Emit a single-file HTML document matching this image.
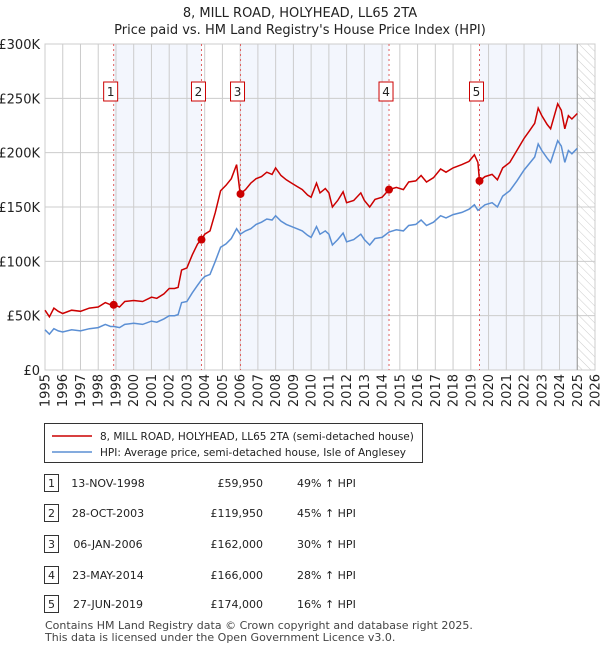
<!DOCTYPE html>
<html><head><meta charset="utf-8"><style>
body{margin:0;background:#fff;font-family:"Liberation Sans","DejaVu Sans",sans-serif;}
#wrap{position:relative;width:600px;height:650px;overflow:hidden;}
svg text{font-family:"DejaVu Sans","Liberation Sans",sans-serif;}
</style></head><body><div id="wrap">
<svg id="chart" width="600" height="650"></svg>
</div>
<script>
const years=[1995,1996,1997,1998,1999,2000,2001,2002,2003,2004,2005,2006,2007,2008,2009,2010,2011,2012,2013,2014,2015,2016,2017,2018,2019,2020,2021,2022,2023,2024,2025,2026];
const yTicks=[0,50,100,150,200,250,300];
const yTickLabels=["£0","£50K","£100K","£150K","£200K","£250K","£300K"];
const times=[1995.0,1995.25,1995.5,1995.75,1996.0,1996.5,1997.0,1997.5,1998.0,1998.4,1998.7,1998.9,1999.2,1999.5,2000.0,2000.5,2001.0,2001.3,2001.7,2002.0,2002.3,2002.5,2002.7,2003.0,2003.3,2003.6,2003.82,2004.0,2004.3,2004.6,2004.9,2005.2,2005.5,2005.8,2006.0,2006.3,2006.6,2006.9,2007.2,2007.5,2007.8,2008.0,2008.3,2008.6,2008.9,2009.2,2009.5,2009.8,2010.0,2010.3,2010.5,2010.8,2011.0,2011.2,2011.5,2011.8,2012.0,2012.4,2012.8,2013.0,2013.3,2013.6,2014.0,2014.39,2014.8,2015.2,2015.5,2015.9,2016.2,2016.5,2016.9,2017.3,2017.6,2018.0,2018.5,2018.9,2019.2,2019.4,2019.49,2019.8,2020.2,2020.5,2020.8,2021.2,2021.6,2022.0,2022.3,2022.6,2022.8,2023.0,2023.3,2023.5,2023.9,2024.1,2024.3,2024.5,2024.7,2025.0];
const hpiValues=[37,33,38,36,35,37,36,38,39,42,40,40,39,42,43,42,45,44,47,50,50,51,62,63,71,78,83,86,88,100,113,116,121,130,125,128,130,134,136,139,138,142,137,134,132,130,128,124,122,132,125,128,125,115,120,126,118,120,125,120,115,121,122,127,129,128,133,134,138,133,136,142,140,143,145,148,152,147,148,152,154,150,160,165,174,184,190,196,208,202,195,191,211,206,191,202,199,204];
const priceValues=[55,49,57,54,52,55,54,57,58,62,60,60,58,63,64,63,67,66,70,75,75,76,92,94,106,116,120,125,128,145,165,170,176,189,162,166,172,176,178,182,180,186,179,175,172,169,166,161,159,172,163,167,163,150,156,164,154,156,163,156,150,157,159,166,168,166,173,174,179,173,177,185,182,186,189,192,198,191,174,178,180,175,186,191,202,213,220,227,241,234,226,222,245,239,222,234,231,236];
const saleLabels=["1","2","3","4","5"];
const saleTimes=[1998.87,2003.82,2006.02,2014.39,2019.49];
const salePrices=[59.95,119.95,162,166,174];
const saleDates=["13-NOV-1998","28-OCT-2003","06-JAN-2006","23-MAY-2014","27-JUN-2019"];
const salePriceText=["£59,950","£119,950","£162,000","£166,000","£174,000"];
const saleHpiText=["49% ↑ HPI","45% ↑ HPI","30% ↑ HPI","28% ↑ HPI","16% ↑ HPI"];

const NS="http://www.w3.org/2000/svg";
const svg=document.getElementById('chart');
const X0=45,X1=595,Y0=370,Y1=44;
const xs=t=>X0+(t-1995)/(2026-1995)*(X1-X0);
const ys=v=>Y0-v/300*(Y0-Y1);
function mk(tag,attrs,parent){const e=document.createElementNS(NS,tag);for(const k in attrs)e.setAttribute(k,attrs[k]);(parent||svg).appendChild(e);return e;}

const defs=mk('defs',{});
const pat=mk('pattern',{id:'hatch',width:6,height:6,patternUnits:'userSpaceOnUse',patternTransform:'rotate(-45)'},defs);
mk('line',{x1:0,y1:0,x2:0,y2:6,stroke:'#ccc','stroke-width':1},pat);

const shadeRanges=[[saleTimes[0],saleTimes[1]],[saleTimes[2],saleTimes[3]],[saleTimes[4],2025.0]];
shadeRanges.forEach((r,i)=>{
  const e=mk('rect',{x:xs(r[0]),y:Y1,width:xs(r[1])-xs(r[0]),height:Y0-Y1,fill:'#f3f6fd'});
  
  
});
const hatch=mk('rect',{x:xs(2025),y:Y1,width:X1-xs(2025),height:Y0-Y1,fill:'url(#hatch)'});



years.forEach(y=>{
  const l=mk('line',{x1:xs(y),x2:xs(y),y1:Y1,y2:Y0,stroke:'#cccccc','stroke-width':1});
  
  
  const t=mk('text',{x:0,y:0,'font-size':13,fill:'#222','text-anchor':'end',transform:`translate(${xs(y)+4.5},${Y0+4}) rotate(-90)`});
  t.textContent=y;
  
  
});
yTicks.forEach((v,i)=>{
  const l=mk('line',{x1:X0,x2:X1,y1:ys(v),y2:ys(v),stroke:'#cccccc','stroke-width':1});
  
  
  const t=mk('text',{x:40,y:ys(v)+5,'font-size':13,fill:'#222','text-anchor':'end'});
  t.textContent=yTickLabels[i];
  
  
});
const border=mk('rect',{x:X0,y:Y1,width:X1-X0,height:Y0-Y1,fill:'none',stroke:'#cccccc'});


const endLine=mk('line',{x1:xs(2025),x2:xs(2025),y1:Y1,y2:Y0,stroke:'#999','stroke-width':1});



saleTimes.forEach((t,i)=>{
  const l=mk('line',{x1:xs(t),x2:xs(t),y1:Y1,y2:Y0,stroke:'#e06060','stroke-width':1,'stroke-dasharray':'2,3'});
  
  
  const g=mk('g',{});
  
  
  mk('rect',{x:xs(t)-10,y:82,width:14,height:19,fill:'#fff',stroke:'#cc0000','stroke-width':1},g);
  const tx=mk('text',{x:xs(t)-3,y:96,'font-size':12,'text-anchor':'middle',fill:'#222'},g);
  tx.textContent=saleLabels[i];
});

function pathOf(vals){return vals.map((v,i)=>(i?'L':'M')+xs(times[i]).toFixed(1)+','+ys(v).toFixed(1)).join('');}
const hpiLine=mk('path',{d:pathOf(hpiValues),fill:'none',stroke:'#5b8fd4','stroke-width':1.5});


const priceLine=mk('path',{d:pathOf(priceValues),fill:'none',stroke:'#cc0000','stroke-width':1.5});


saleTimes.forEach((t,i)=>{
  const c=mk('circle',{cx:xs(t),cy:ys(salePrices[i]),r:4,fill:'#cc0000'});
  
  
});

const t1=mk('text',{x:300,y:17,'font-size':13,'text-anchor':'middle',fill:'#222'});
t1.textContent='8, MILL ROAD, HOLYHEAD, LL65 2TA';


const t2=mk('text',{x:300,y:34,'font-size':13,'text-anchor':'middle',fill:'#222'});
t2.textContent="Price paid vs. HM Land Registry's House Price Index (HPI)";



const lg=mk('g',{});


mk('rect',{x:44.5,y:423.5,width:378,height:39,fill:'#fff',stroke:'#333'},lg);
mk('line',{x1:52,x2:92,y1:436,y2:436,stroke:'#cc0000','stroke-width':1.5},lg);
const le1=mk('text',{x:100,y:440,'font-size':10.5,fill:'#222'},lg);le1.textContent='8, MILL ROAD, HOLYHEAD, LL65 2TA (semi-detached house)';
mk('line',{x1:52,x2:92,y1:452,y2:452,stroke:'#5b8fd4','stroke-width':1.5},lg);
const le2=mk('text',{x:100,y:456,'font-size':10.5,fill:'#222'},lg);le2.textContent='HPI: Average price, semi-detached house, Isle of Anglesey';

const rowY=[483,513,544,575,604];
saleLabels.forEach((s,i)=>{
  const g=mk('g',{});
  
  
  const y=rowY[i];
  mk('rect',{x:44.5,y:y-8.5,width:14,height:17,fill:'#fff',stroke:'#333'},g);
  const a=mk('text',{x:51.5,y:y+4,'font-size':11,'text-anchor':'middle',fill:'#222'},g);a.textContent=s;
  const b=mk('text',{x:108,y:y+4,'font-size':11,'text-anchor':'middle',fill:'#222'},g);b.textContent=saleDates[i];
  const c=mk('text',{x:263,y:y+4,'font-size':11,'text-anchor':'end',fill:'#222'},g);c.textContent=salePriceText[i];
  const d=mk('text',{x:297,y:y+4,'font-size':11,fill:'#222'},g);d.textContent=saleHpiText[i];
});
const f1=mk('text',{x:45,y:629,'font-size':11,fill:'#444'});f1.textContent='Contains HM Land Registry data © Crown copyright and database right 2025.';


const f2=mk('text',{x:45,y:641,'font-size':11,fill:'#444'});f2.textContent='This data is licensed under the Open Government Licence v3.0.';


</script></body></html>
